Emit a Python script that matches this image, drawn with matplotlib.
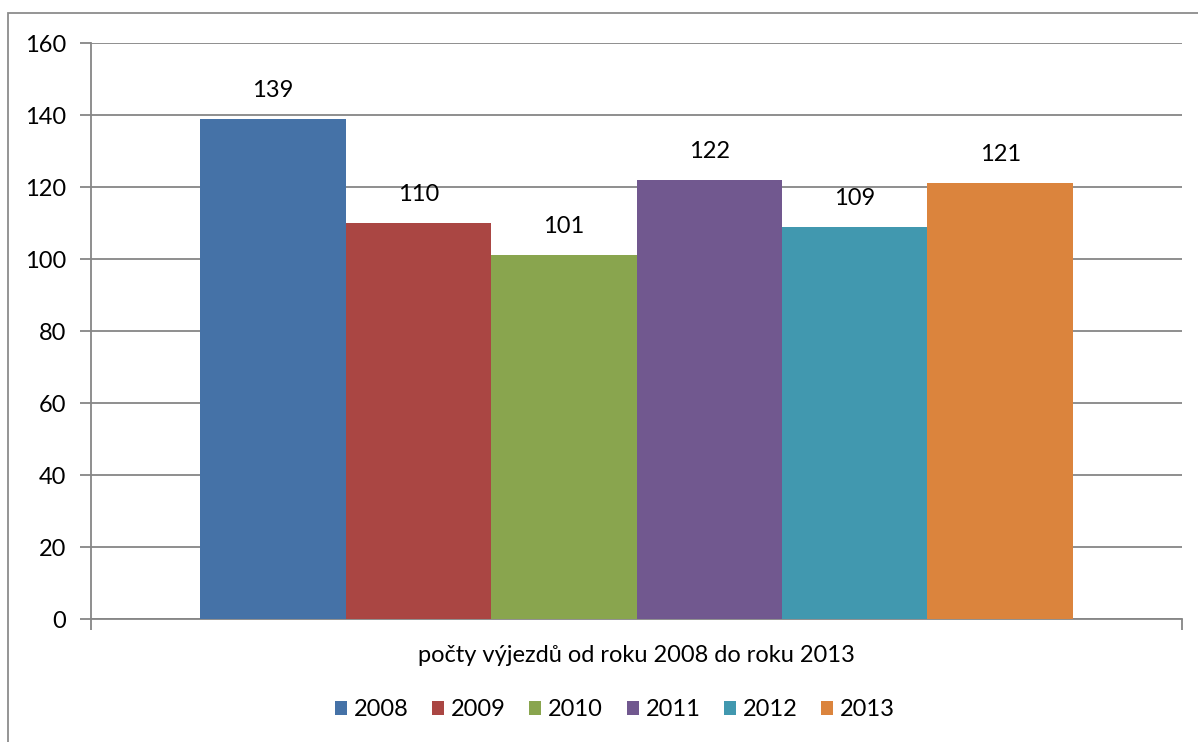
import matplotlib
matplotlib.use("Agg")
import matplotlib.pyplot as plt
from matplotlib.patches import Rectangle, Patch

years = ["2008", "2009", "2010", "2011", "2012", "2013"]
values = [139, 110, 101, 122, 109, 121]
colors = ["#4572A7", "#AA4643", "#89A54E", "#71588F", "#4198AF", "#DB843D"]
category = "počty výjezdů od roku 2008 do roku 2013"
yticks = [0, 20, 40, 60, 80, 100, 120, 140, 160]

plt.rcParams['font.family'] = ['Lato', 'DejaVu Sans']

W, H = 1198, 742
fs = 17
fig = plt.figure(figsize=(W / 100, H / 100), dpi=100)
fig.patch.set_facecolor("white")

# outer chart border (top & left visible)
fig.patches.append(Rectangle((8 / W, -0.1), 1.2, 1 - 13 / H + 0.1, transform=fig.transFigure,
                             fill=False, edgecolor="#8c8c8c", linewidth=1.3))

ax = fig.add_axes([91 / W, 1 - 619 / H, (1182 - 91) / W, (619 - 43) / H])
n = len(values)
group = 0.80
bw = group / n
start = -group / 2
for i, (v, c, y) in enumerate(zip(values, colors, years)):
    x = start + bw * (i + 0.5)
    ax.bar(x, v, width=bw, color=c, label=y, zorder=3)
    ax.text(x, v + 5, str(v), ha="center", va="bottom", fontsize=fs, color="black")

ax.set_xlim(-0.5, 0.5)
ax.set_ylim(0, 160)
ax.set_yticks(yticks)
ax.set_yticklabels([str(t) for t in yticks], fontsize=fs)
ax.yaxis.grid(True, color="#868686", linewidth=1.3, zorder=0)
ax.set_xticks([-0.5, 0.5])
ax.set_xticklabels(["", ""])
ax.tick_params(axis="both", length=8, width=1.3, color="#868686", direction="out", pad=10)
for s in ["top", "right"]:
    ax.spines[s].set_visible(False)
for s in ["left", "bottom"]:
    ax.spines[s].set_color("#868686")
    ax.spines[s].set_linewidth(1.3)

fig.text(636 / W, 1 - 656 / H, category, ha="center", va="center", fontsize=fs)

handles = [Patch(facecolor=c, edgecolor="none") for c in colors]
fig.legend(handles, years, loc="center", bbox_to_anchor=(615 / W, 1 - 710 / H),
           ncol=n, frameon=False, fontsize=fs, handlelength=0.5, handleheight=0.5,
           handletextpad=0.3, columnspacing=1.0, borderpad=0, borderaxespad=0)

fig.savefig("out.png", dpi=100, facecolor="white")
